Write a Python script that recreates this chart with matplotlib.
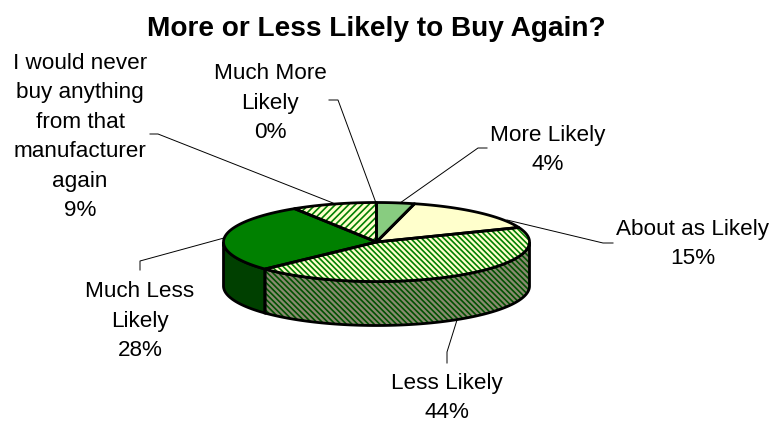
import numpy as np
import matplotlib
matplotlib.use('Agg')
import matplotlib.pyplot as plt
from matplotlib.patches import Polygon

plt.rcParams['font.family'] = ['Liberation Sans', 'DejaVu Sans']
plt.rcParams['hatch.linewidth'] = 1.2

title = 'More or Less Likely to Buy Again?'
labels = ['Much More\nLikely', 'More Likely', 'About as Likely', 'Less Likely',
          'Much Less\nLikely', 'I would never\nbuy anything\nfrom that\nmanufacturer\nagain']
values = [0, 4, 15, 44, 28, 9]

top_colors = ['#88CC80', '#88CC80', '#FFFFCC', '#FFFFCC', '#008000', '#FFFFCC']
side_colors = ['#446640', '#446640', '#8A8A70', '#8A8A70', '#004000', '#8A8A70']
hatches = [None, None, None, '\\' * 6, None, '/' * 5]
hatch_top = '#008000'
hatch_side = '#005000'

# centre of each label block and the elbow leader running to the pie
label_x = [270, 548, 693, 447, 140, 80]
label_y = [103, 150, 244, 398, 321, 137]
leader_x = [[329, 338, 376], [487, 478, 400], [613, 603, 507],
            [447, 447, 457], [140, 140, 224], [150, 158, 333]]
leader_y = [[100, 100, 203], [148, 148, 203], [243, 243, 220],
            [363, 352, 320], [270, 261, 238], [134, 134, 203]]

cx, cy = 376.5, 242
rx, ry = 153, 39.5
depth = 44

fig = plt.figure(figsize=(7.75, 4.23), dpi=100)
ax = fig.add_axes([0, 0, 1, 1])
ax.set_xlim(0, 775)
ax.set_ylim(423, 0)
ax.axis('off')


def arc(start, end):
    # clockwise from twelve o'clock, angles in degrees
    t = np.radians(np.linspace(start, end, max(int(end - start) * 2, 2)))
    return cx + rx * np.sin(t), cy - ry * np.cos(t)


edges = np.concatenate([[0], np.cumsum(values)]) * 3.6

# walls first, only the front half of the ellipse is visible
for i in range(len(values)):
    a = max(edges[i], 90)
    b = min(edges[i + 1], 270)
    if b <= a:
        continue
    x, y = arc(a, b)
    px = np.concatenate([x, x[::-1]])
    py = np.concatenate([y, y[::-1] + depth])
    ax.add_patch(Polygon(np.column_stack([px, py]), facecolor=side_colors[i],
                         edgecolor=hatch_side, hatch=hatches[i], lw=0, zorder=2))
    ax.add_patch(Polygon(np.column_stack([px, py]), fill=False, edgecolor='black', lw=2, zorder=3))

# top face
for i in range(len(values)):
    if values[i] == 0:
        continue
    x, y = arc(edges[i], edges[i + 1])
    px = np.concatenate([[cx], x])
    py = np.concatenate([[cy], y])
    ax.add_patch(Polygon(np.column_stack([px, py]), facecolor=top_colors[i],
                         edgecolor=hatch_top, hatch=hatches[i], lw=0, zorder=4))
    ax.add_patch(Polygon(np.column_stack([px, py]), fill=False, edgecolor='black',
                         lw=2, joinstyle='round', zorder=5))

for i in range(len(values)):
    ax.plot(leader_x[i], leader_y[i], color='black', lw=0.7, zorder=1)
    ax.text(label_x[i], label_y[i], '%s\n%d%%' % (labels[i], values[i]), ha='center', va='center',
            ma='center', fontsize=16.2, linespacing=1.53, color='black')

ax.text(376, 29, title, ha='center', va='center', fontsize=20.2, fontweight='bold')

fig.savefig('out.png', dpi=100)
